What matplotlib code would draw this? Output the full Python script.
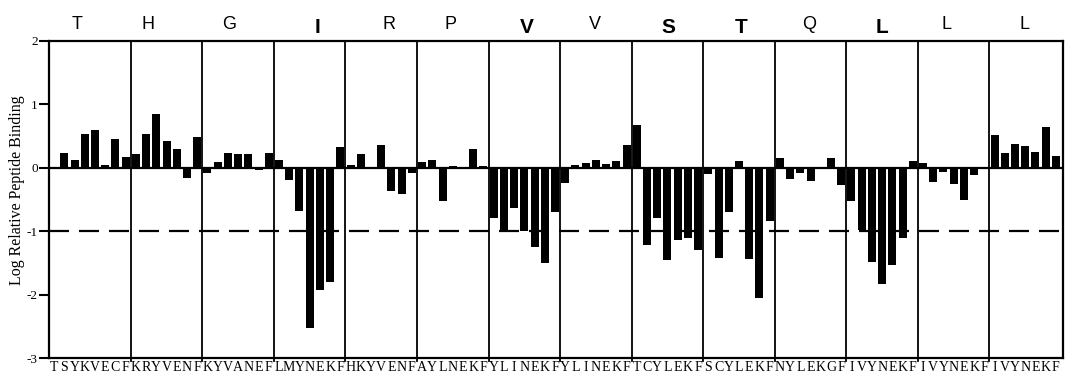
import numpy as np
import matplotlib
matplotlib.use("Agg")
import matplotlib.pyplot as plt
from matplotlib.transforms import blended_transform_factory

# Заголовки панелей (позиція в пептиді) та жирність
panel_heads = ["T", "H", "G", "I", "R", "P", "V", "V", "S", "T", "Q", "L", "L", "L"]
head_bold = [False, False, False, True, False, False, True, False, True, True, False, True, False, False]

# Послідовності під віссю x (по літері на позицію)
peptides = ["TSYKVECF", "KRYVENF", "KYVANEF", "LMYNEKF", "HKYVENF", "AYLNEKF", "YLINEKF",
            "YLINEKF", "TCYLEKF", "SCYLEKF", "NYLEKGF", "IVYNEKF", "IVYNEKF", "IVYNEKF"]

# Значення log relative binding, по 7 на панель
binding = [
    [0.23, 0.13, 0.54, 0.59, 0.04, 0.46, 0.17],
    [0.22, 0.54, 0.85, 0.43, 0.29, -0.16, 0.48],
    [-0.08, 0.09, 0.24, 0.22, 0.21, -0.04, 0.23],
    [0.12, -0.20, -0.68, -2.53, -1.93, -1.80, 0.33],
    [0.05, 0.22, 0.00, 0.36, -0.36, -0.41, -0.08],
    [0.09, 0.13, -0.53, 0.03, 0.02, 0.30, 0.03],
    [-0.79, -0.99, -0.63, -1.00, -1.25, -1.50, -0.70],
    [-0.24, 0.04, 0.08, 0.13, 0.06, 0.10, 0.36],
    [0.68, -1.22, -0.79, -1.46, -1.14, -1.10, -1.29],
    [-0.09, -1.42, -0.69, 0.10, -1.44, -2.05, -0.84],
    [0.15, -0.17, -0.08, -0.21, 0.01, 0.15, -0.27],
    [-0.52, -0.98, -1.49, -1.83, -1.54, -1.10, 0.10],
    [0.08, -0.23, -0.07, -0.25, -0.51, -0.12, 0.00],
    [0.51, 0.23, 0.38, 0.35, 0.25, 0.64, 0.19],
]

threshold = -1.0

# зсув заголовків відносно центру панелі (як в оригіналі)
head_shift = [-1.3, -1.8, -0.9, 0.8, 0.8, -0.2, 0.2, -0.1, 0.1, 0.2, -0.1, 0.0, -0.7, -0.1]

serif = ["Liberation Serif", "DejaVu Serif"]
sans = ["Liberation Sans", "DejaVu Sans"]

letters = "".join(peptides)
values = np.concatenate(binding)
xpos = np.arange(1, len(values) + 1)  # позиція 0 (перша T) без стовпчика

fig = plt.figure(figsize=(10.67, 3.75), dpi=100)
ax = fig.add_axes([0.0459, 0.0453, 0.9504, 0.8454])

ax.bar(xpos, values, width=0.78, color="black", zorder=3)

ax.axhline(0, color="black", lw=1.6, zorder=4)
ax.axhline(threshold, color="black", lw=1.6, linestyle=(0, (9, 4.5)), zorder=2)

# межі панелей
bounds = [len(peptides[0]) - 0.5 + 7 * k for k in range(len(peptides) - 1)]
for b in bounds:
    ax.plot([b, b], [-3.04, 2], color="black", lw=1.3, clip_on=False, zorder=5)

ax.set_xlim(-0.5, len(letters) - 0.3)
ax.set_ylim(-3, 2)

ax.set_xticks(np.arange(len(letters)))
ax.set_xticklabels(list(letters), family=serif, fontsize=10)
ax.tick_params(axis="x", length=0, pad=2)

ax.set_yticks([2, 1, 0, -1, -2, -3])
ax.set_yticklabels(["2", "1", "0", "-1", "-2", "-3"], family=serif, fontsize=9.5)
ax.tick_params(axis="y", length=7, width=1.5, pad=1)

ax.set_ylabel("Log Relative Peptide Binding", family=serif, fontsize=11.5)
ax.yaxis.set_label_coords(-0.0237, 0.53)

for s in ax.spines.values():
    s.set_linewidth(1.6)

# заголовки панелей над графіком
edges = [-0.5] + bounds + [len(letters) - 0.5]
tr = blended_transform_factory(ax.transData, ax.transAxes)
for k, h in enumerate(panel_heads):
    cx = (edges[k] + edges[k + 1]) / 2 + head_shift[k]
    if head_bold[k]:
        ax.text(cx, 1.025, h, transform=tr, ha="center", va="baseline",
                family=sans, fontsize=15, fontweight="bold")
    else:
        ax.text(cx, 1.039, h, transform=tr, ha="center", va="baseline",
                family=sans, fontsize=13)

fig.savefig("out.png", dpi=100)
